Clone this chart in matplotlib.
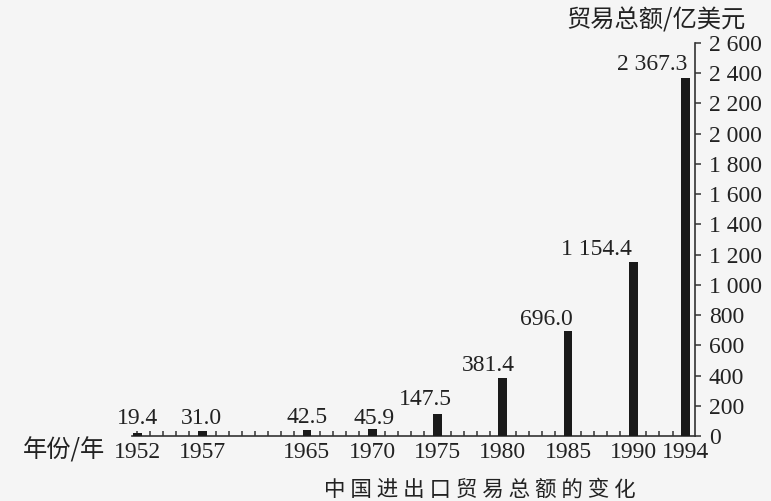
import numpy as np
import matplotlib.pyplot as plt
from matplotlib.ticker import FuncFormatter, MultipleLocator

# China total import/export trade, 100 million USD
years = [1952, 1957, 1965, 1970, 1975, 1980, 1985, 1990, 1994]
totals = [19.4, 31.0, 42.5, 45.9, 147.5, 381.4, 696.0, 1154.4, 2367.3]
value_labels = ["19.4", "31.0", "42.5", "45.9", "147.5", "381.4", "696.0",
                "1 154.4", "2 367.3"]

# hand-tuned label offsets (pixels) from the top of each bar
label_dx = [0, -1, 0, 2, -12, -14, -22, -37, -33]
label_dy = [15, 13, 12, 11, 14, 13, 11, 12, 14]

num_font = "Liberation Serif"
cjk_font = ["Noto Sans CJK SC", "DejaVu Sans"]
ink = "#222222"
bg = "#f5f5f5"
fs = 17

fig = plt.figure(figsize=(7.71, 5.01), dpi=100, facecolor=bg)
ax = fig.add_axes([132 / 771, 1 - 436 / 501, (695 - 132) / 771, (436 - 43) / 501])
ax.set_facecolor(bg)

ax.bar(years, totals, width=0.66, color="#1a1a1a", zorder=3)

for yr, val, txt, dx, dy in zip(years, totals, value_labels, label_dx, label_dy):
    ax.annotate(txt, (yr, val), xytext=(dx, dy), textcoords="offset pixels",
                ha="center", va="center", fontsize=fs, family=num_font,
                color=ink)

ax.set_xlim(1951.6, 1994.72)
ax.set_ylim(0, 2600)

for side in ["top", "left"]:
    ax.spines[side].set_visible(False)
for side in ["bottom", "right"]:
    ax.spines[side].set_color("#333333")
    ax.spines[side].set_linewidth(1.2)

# x axis: year labels under bars, small inward ticks every year
ax.set_xticks(years)
ax.set_xticklabels([str(y) for y in years], fontsize=fs, family=num_font,
                   color=ink)
ax.xaxis.set_minor_locator(MultipleLocator(1))
ax.tick_params(axis="x", which="major", length=3.5, width=1.1, direction="in",
               pad=4, color="#333333")
ax.tick_params(axis="x", which="minor", length=3.5, width=1.1, direction="in",
               color="#333333")

# y axis on the right side
ax.yaxis.tick_right()
ax.set_yticks(np.arange(0, 2601, 200))
ax.yaxis.set_major_formatter(FuncFormatter(lambda v, p: f"{int(v):,}".replace(",", " ")))
ax.tick_params(axis="y", which="major", length=4, width=1.1, direction="out",
               pad=6, labelsize=fs, color="#333333", labelcolor=ink)
for lbl in ax.get_yticklabels():
    lbl.set_family(num_font)

fig.text(656 / 771, 1 - 21 / 501, "贸易总额/亿美元", ha="center", va="center",
         fontsize=17.5, family=cjk_font, color=ink)
fig.text(105 / 771, 1 - 451 / 501, "年份/年", ha="right", va="center",
         fontsize=17.5, family=cjk_font, color=ink)
fig.text(480 / 771, 1 - 490 / 501, "中 国 进 出 口 贸 易 总 额 的 变 化",
         ha="center", va="center", fontsize=15.5, family=cjk_font, color=ink)

fig.savefig("out.png", dpi=100, facecolor=bg)
